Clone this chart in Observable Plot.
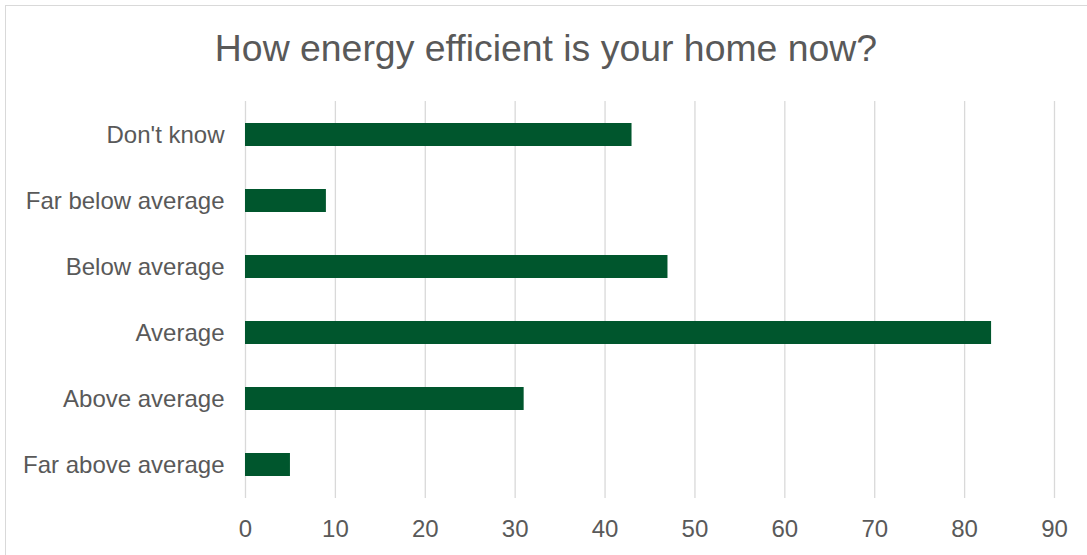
<!DOCTYPE html>
<html>
<head>
<meta charset="utf-8">
<script src="https://cdn.jsdelivr.net/npm/d3@7"></script>
<script src="https://cdn.jsdelivr.net/npm/@observablehq/plot@0.6"></script>
<style>
  html, body { margin: 0; padding: 0; background: #fff; overflow: hidden; width: 1087px; height: 555px; }
  #frame { position: absolute; left: 5px; top: 5px; width: 1100px; height: 570px; border: 1px solid #d9d9d9; box-sizing: border-box; }
  #title { position: absolute; left: 5px; width: 1082px; top: 24px; text-align: center; font-family: "Liberation Sans", Arial, sans-serif; font-size: 37.4px; color: #595959; line-height: 48px; }
  #chart { position: absolute; left: 0; top: 0; }
</style>
</head>
<body>
<div id="frame"></div>
<div id="title">How energy efficient is your home now?</div>
<div id="chart"></div>
<script>
const categories = ["Don't know", "Far below average", "Below average", "Average", "Above average", "Far above average"];
const values = [43, 9, 47, 83, 31, 5];
const xTicks = [0, 10, 20, 30, 40, 50, 60, 70, 80, 90];

const data = categories.map((c, i) => ({category: c, value: values[i]}));

const chart = Plot.plot({
  width: 1087,
  height: 555,
  marginLeft: 245,
  marginRight: 33,
  marginTop: 101,
  marginBottom: 57,
  style: { fontFamily: "'Liberation Sans', Arial, sans-serif", fontSize: "24px", color: "#595959", background: "transparent" },
  x: { domain: [0, 90], ticks: xTicks, label: null },
  y: { domain: categories, paddingInner: 0.653, paddingOuter: 0.327, label: null },
  marks: [
    Plot.gridX(xTicks, { stroke: "#d9d9d9", strokeOpacity: 1, strokeWidth: 1.3 }),
    Plot.barX(data, { x: "value", y: "category", fill: "#00562d" }),
    Plot.axisX({ ticks: xTicks, tickSize: 0, tickPadding: 21, fill: "#595959", fontSize: 24 }),
    Plot.axisY({ tickSize: 0, tickPadding: 21, fill: "#595959", fontSize: 24 })
  ]
});
document.getElementById("chart").appendChild(chart);
</script>
</body>
</html>
